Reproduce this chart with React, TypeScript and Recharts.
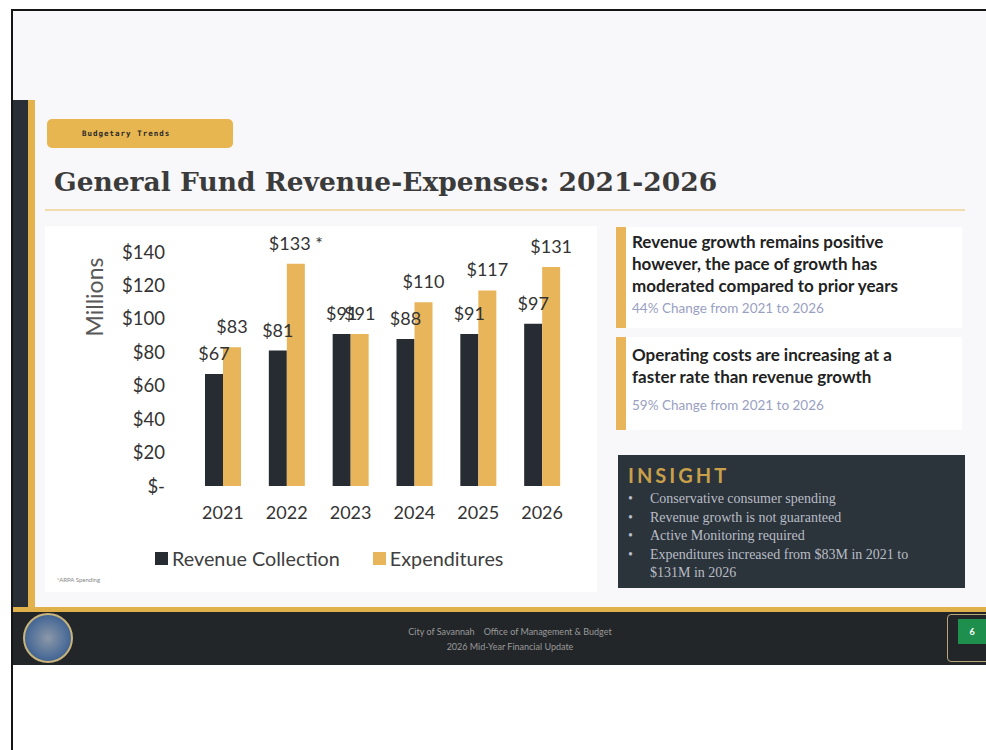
import React from 'react'
import { BarChart, Bar, XAxis, YAxis, LabelList } from 'recharts'

// values (millions of dollars)
const years = ['2021', '2022', '2023', '2024', '2025', '2026']
const revenue = [67, 81, 91, 88, 91, 97]
const expenditures = [83, 133, 91, 110, 117, 131]
const expNotes = ['', ' *', '', '', '', '']
const yTicks = [0, 20, 40, 60, 80, 100, 120, 140]

const insightBullets = [
  'Conservative consumer spending',
  'Revenue growth is not guaranteed',
  'Active Monitoring required',
  'Expenditures increased from $83M  in 2021 to $131M in 2026',
]

const DARK = '#272c32'
const GOLD = '#e9b55a'

const series = [
  { key: 'revenue', label: 'revLabel', name: 'Revenue Collection', color: DARK },
  { key: 'expenditures', label: 'expLabel', name: 'Expenditures', color: GOLD },
]

const data = years.map((year, i) => ({
  year,
  revenue: revenue[i],
  expenditures: expenditures[i],
  revLabel: `$${revenue[i]}`,
  expLabel: `$${expenditures[i]}${expNotes[i]}`,
}))

const money = (v: number) => (v === 0 ? '$-' : `$${v}`)

// plain <text> so "$133 *" does not get wrapped to the bar width
const barLabel = (props: any) => {
  const { x, y, width, value } = props
  return (
    <text x={Number(x) + Number(width) / 2} y={Number(y) - 14} textAnchor="middle" fill="#333" fontSize={18} fontFamily="Lato">
      {value}
    </text>
  )
}

function ChartLegend() {
  return (
    <div style={{ display: 'flex', alignItems: 'center', fontFamily: 'Lato', fontSize: 19.8, color: '#404040' }}>
      {series.map((s) => (
        <div key={s.key} style={{ display: 'flex', alignItems: 'center', marginRight: 33 }}>
          <span style={{ width: 13, height: 13, background: s.color, display: 'inline-block', marginRight: 4 }} />
          <span>{s.name}</span>
        </div>
      ))}
    </div>
  )
}

function RevenueChart() {
  return (
    <BarChart
      width={552}
      height={366}
      data={data}
      margin={{ top: 26, right: 23, left: 0, bottom: 76 }}
      barGap={0}
      barSize={18}
    >
      <XAxis
        dataKey="year"
        axisLine={false}
        tickLine={false}
        tickSize={0}
        tickMargin={20}
        interval={0}
        height={30}
        tick={{ fill: '#333', fontSize: 18, fontFamily: 'Lato' }}
      />
      <YAxis
        domain={[0, 140]}
        ticks={yTicks}
        width={146}
        axisLine={false}
        tickLine={false}
        tickSize={0}
        tickMargin={26}
        tickFormatter={money}
        tick={{ fill: '#333', fontSize: 18.5, fontFamily: 'Lato' }}
        label={{
          value: 'Millions',
          angle: -90,
          position: 'center',
          dx: -23,
          dy: -72,
          fill: '#595959',
          fontSize: 23,
          fontFamily: 'Lato',
        }}
      />
      {series.map((s) => (
        <Bar key={s.key} dataKey={s.key} name={s.name} fill={s.color} isAnimationActive={false}>
          <LabelList dataKey={s.label} content={barLabel} />
        </Bar>
      ))}
    </BarChart>
  )
}

const abs = (s: React.CSSProperties): React.CSSProperties => ({ position: 'absolute', ...s })

export default function App() {
  return (
    <div style={abs({ left: 0, top: 0, width: 986, height: 750, background: '#fff', overflow: 'hidden', fontFamily: 'Lato' })}>
      {/* scan border */}
      <div style={abs({ left: 11, top: 9, width: 2, height: 741, background: '#151515' })} />
      <div style={abs({ left: 11, top: 9, width: 975, height: 2, background: '#151515' })} />

      {/* slide body */}
      <div style={abs({ left: 13, top: 11, width: 973, height: 600, background: '#f8f8fa' })} />
      <div style={abs({ left: 13, top: 100, width: 15, height: 511, background: '#2a2f36' })} />
      <div style={abs({ left: 28, top: 100, width: 7, height: 508, background: '#e4b24c' })} />

      <div style={abs({ left: 47, top: 119, width: 186, height: 29, borderRadius: 5, background: '#e8b650' })}>
        <div style={{ paddingLeft: 35, lineHeight: '29px', fontSize: 7.5, fontWeight: 900, letterSpacing: 1, color: '#2a2a2a', fontFamily: 'DejaVu Sans Mono' }}>
          Budgetary Trends
        </div>
      </div>

      <div style={abs({ left: 54, top: 166, fontFamily: 'DejaVu Serif', fontWeight: 'bold', fontSize: 26.5, color: '#3b3b3b', whiteSpace: 'nowrap' })}>
        General Fund Revenue-Expenses: 2021-2026
      </div>
      <div style={abs({ left: 45, top: 209, width: 920, height: 2, background: '#f1dcb0' })} />

      {/* chart panel */}
      <div style={abs({ left: 45, top: 226, width: 552, height: 366, background: '#fff' })}>
        <RevenueChart />
        <div style={abs({ left: 110, top: 320 })}>
          <ChartLegend />
        </div>
        <div style={abs({ left: 12, top: 350, fontSize: 6, color: '#888' })}>*ARPA Spending</div>
      </div>

      {/* right callouts */}
      <div style={abs({ left: 616, top: 227, width: 346, height: 101, background: '#fff' })}>
        <div style={abs({ left: 0, top: 0, width: 10, height: 101, background: GOLD })} />
        <div style={abs({ left: 16, top: 4, fontSize: 17, fontWeight: 700, lineHeight: '22px', color: '#222', whiteSpace: 'nowrap' })}>
          Revenue growth remains positive
          <br />
          however, the pace of growth has
          <br />
          moderated compared to prior years
        </div>
        <div style={abs({ left: 16, top: 73, fontSize: 13.5, color: '#9aa0c2' })}>44% Change from 2021 to 2026</div>
      </div>

      <div style={abs({ left: 616, top: 337, width: 346, height: 93, background: '#fff' })}>
        <div style={abs({ left: 0, top: 0, width: 10, height: 93, background: GOLD })} />
        <div style={abs({ left: 16, top: 7, fontSize: 17, fontWeight: 700, lineHeight: '22px', color: '#222', whiteSpace: 'nowrap' })}>
          Operating costs are increasing at a
          <br />
          faster rate than revenue growth
        </div>
        <div style={abs({ left: 16, top: 60, fontSize: 13.5, color: '#9aa0c2' })}>59% Change from 2021 to 2026</div>
      </div>

      <div style={abs({ left: 618, top: 455, width: 347, height: 133, background: '#2b333b' })}>
        <div style={abs({ left: 10, top: 8, fontSize: 20, fontWeight: 700, letterSpacing: 3, color: '#c9a04a' })}>INSIGHT</div>
        <div style={abs({ left: 10, top: 35, width: 322, fontSize: 14, lineHeight: '18.5px', color: '#b9bdc5', fontFamily: 'Liberation Serif' })}>
          {insightBullets.map((b, i) => (
            <div key={i} style={{ display: 'flex' }}>
              <span style={{ width: 22, flexShrink: 0 }}>•</span>
              <span>{b}</span>
            </div>
          ))}
        </div>
      </div>

      {/* footer */}
      <div style={abs({ left: 13, top: 607, width: 973, height: 5, background: '#e0b04a' })} />
      <div style={abs({ left: 13, top: 612, width: 973, height: 53, background: '#222629' })} />
      <div
        style={abs({
          left: 23,
          top: 613,
          width: 50,
          height: 50,
          borderRadius: '50%',
          border: '2px solid #c8b47c',
          boxSizing: 'border-box',
          background: 'radial-gradient(circle, #8c98a8 0%, #4d6d98 60%, #2a4d7a 100%)',
        })}
      />
      <div style={abs({ left: 360, top: 624, width: 300, textAlign: 'center', fontSize: 9, lineHeight: '15px', color: '#9a9a9a' })}>
        City of Savannah&nbsp;&nbsp;&nbsp; Office of Management &amp; Budget
        <br />
        2026 Mid-Year Financial Update
      </div>
      <div style={abs({ left: 947, top: 614, width: 45, height: 48, border: '1px solid #b9a77a', borderRadius: 4, boxSizing: 'border-box' })} />
      <div style={abs({ left: 958, top: 619, width: 28, height: 25, background: '#1f8f4e', color: '#fff', fontSize: 9, fontWeight: 700, textAlign: 'center', lineHeight: '25px' })}>
        6
      </div>
    </div>
  )
}
